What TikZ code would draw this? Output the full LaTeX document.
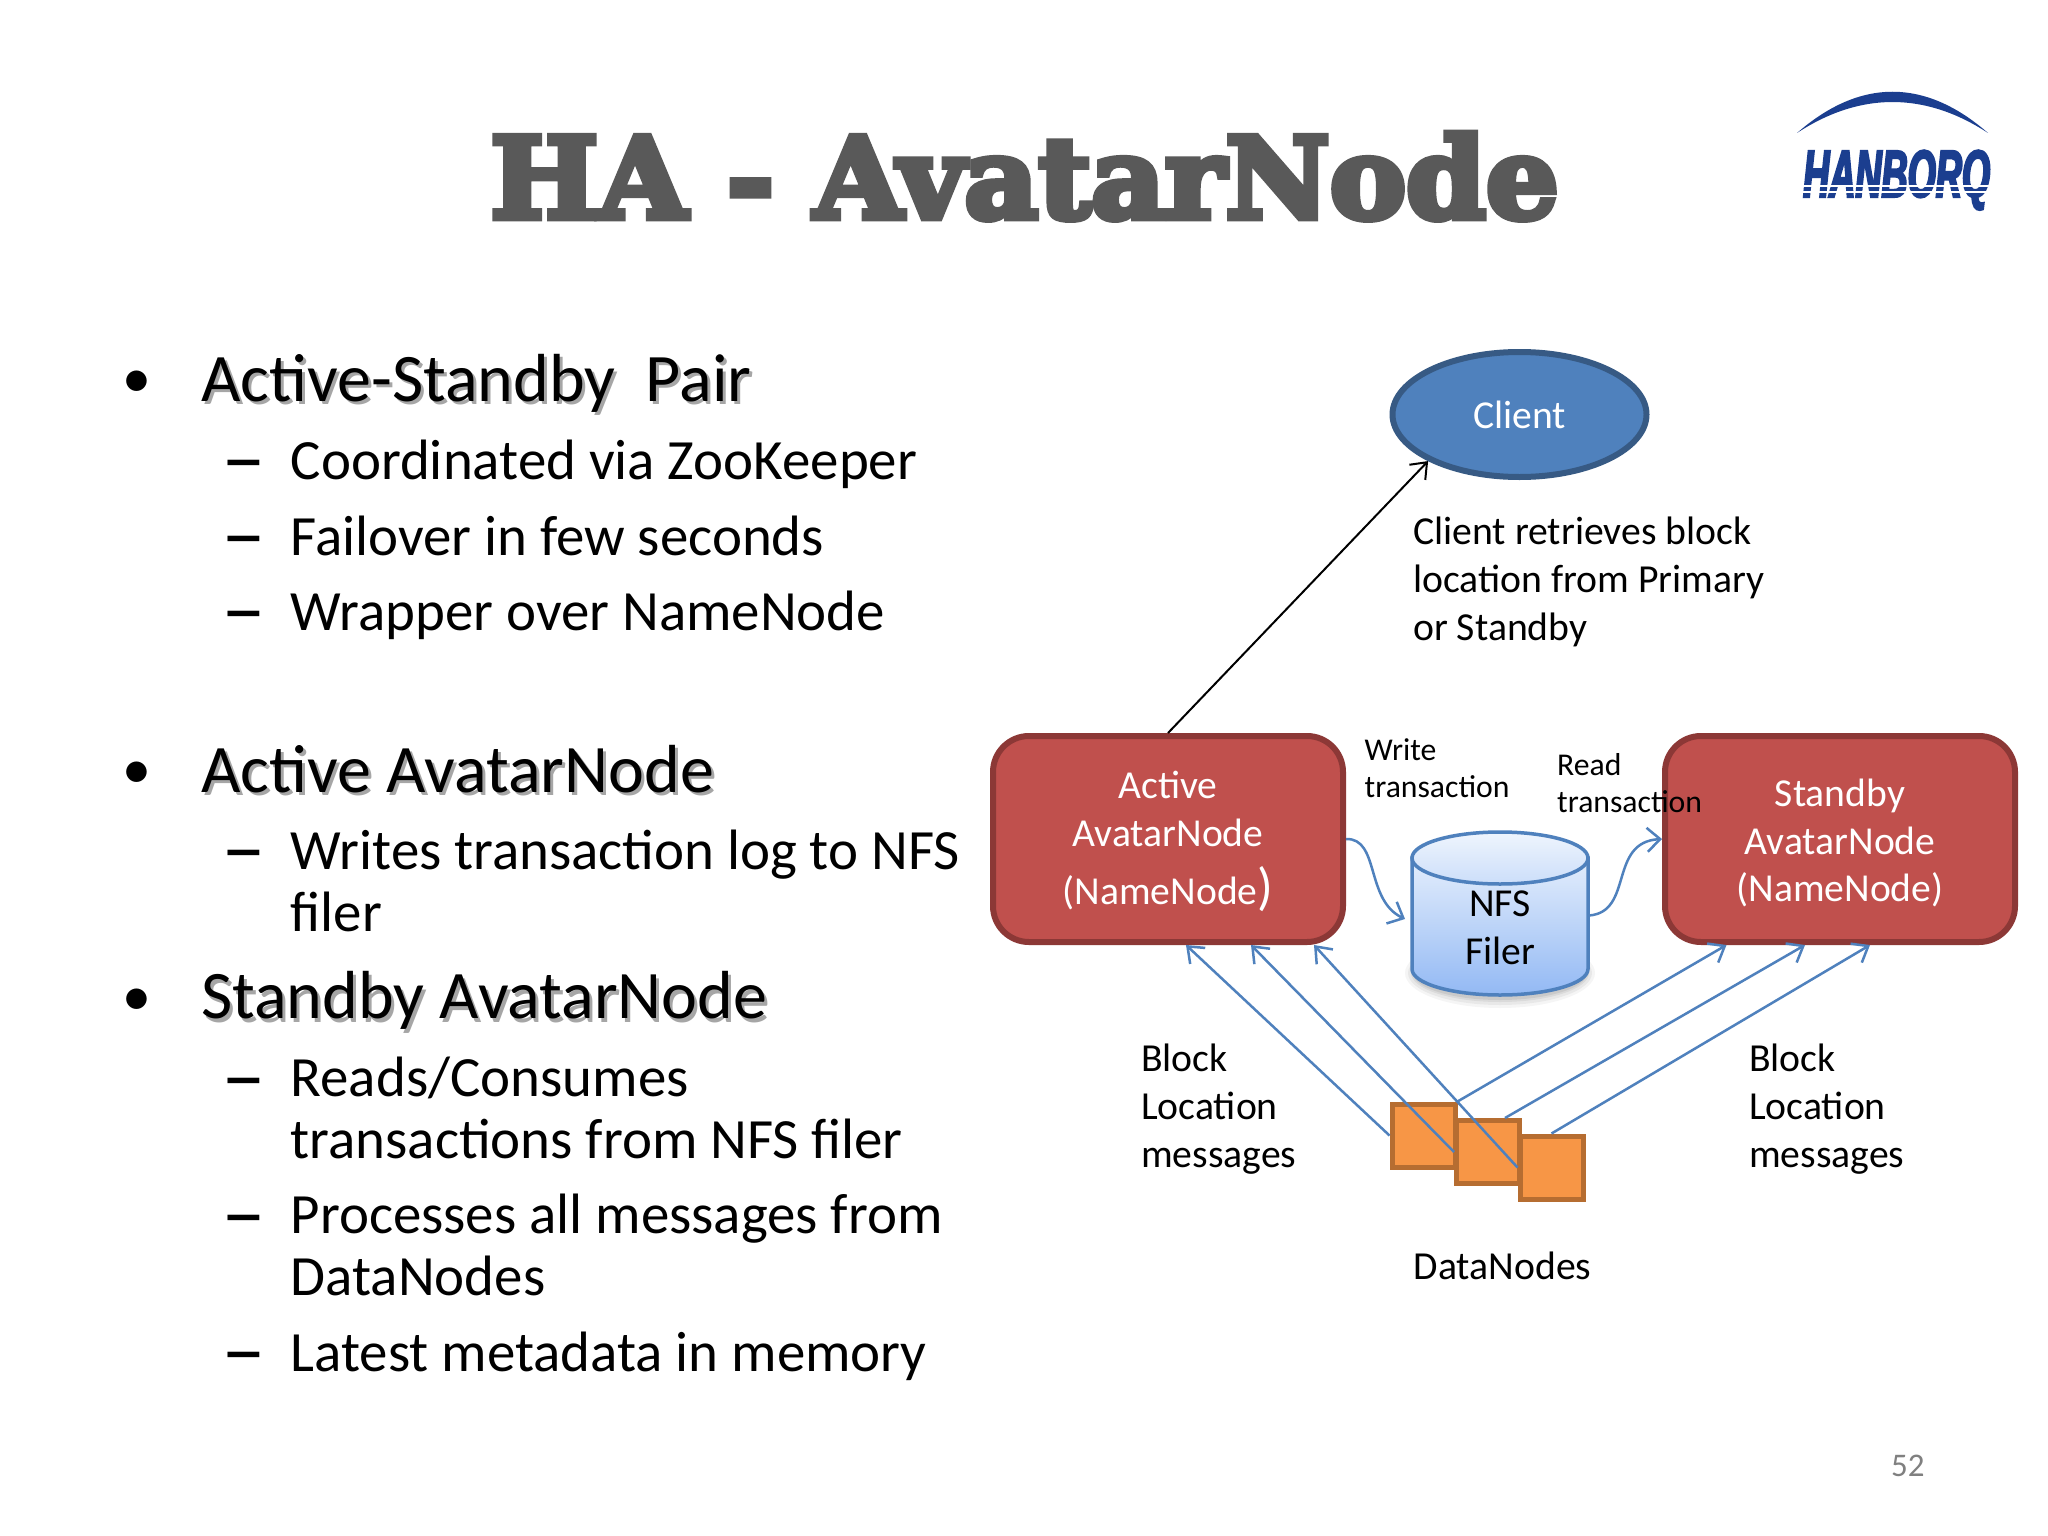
\documentclass[tikz,border=0pt]{standalone}
\usepackage{fontspec}
\setmainfont{Carlito}
\newfontfamily\titlefont[FakeBold=6,FakeStretch=1.02]{DejaVu Serif Bold}
\newfontfamily\logofont[FakeBold=3,FakeStretch=0.54]{Liberation Sans Bold Italic}
\newfontfamily\dashfont[FakeStretch=1.45]{Carlito Bold}
\usetikzlibrary{arrows.meta,positioning,calc,fadings,shapes.geometric}
\definecolor{boxred}{HTML}{C0504D}
\definecolor{boxredline}{HTML}{8C3836}
\definecolor{linkblue}{HTML}{4F81BD}
\definecolor{dnfill}{HTML}{F79646}
\definecolor{dnline}{HTML}{B66D31}
\definecolor{logoblue}{HTML}{1B3E8F}
\definecolor{cyltop}{HTML}{E4EEFC}
\definecolor{cylbot}{HTML}{93B9F4}
\newcommand{\fsz}[2]{\fontsize{#1}{#2}\selectfont}
\tikzset{
  x=1pt,y=-1pt,
  bigtext/.style={anchor=base west,inner sep=0pt,font=\fsz{68}{70},text=black},
  subtext/.style={anchor=base west,inner sep=0pt,font=\fsz{56.9}{61.5},align=left,text=black},
  shadowtext/.style={bigtext,text=black!35},
  bulletmark/.style={anchor=base west,inner sep=0pt,font=\fsz{58}{60}},
  dashmark/.style={anchor=base west,inner sep=0pt,font=\dashfont\fsz{62}{60}},
  namebox/.style={draw=boxredline,line width=6pt,fill=boxred,rounded corners=36pt,minimum width=350pt,minimum height=206pt,inner sep=0pt,text=white,align=center,font=\fsz{39.6}{47.5}},
  datanode/.style={draw=dnline,line width=5pt,fill=dnfill,minimum width=63pt,minimum height=63pt,inner sep=0pt},
  label/.style={anchor=base west,inner sep=0pt,align=left,font=\fsz{39.7}{48},text=black},
  smalllabel/.style={anchor=base west,inner sep=0pt,align=left,font=\fsz{31.7}{37.5},text=black},
  blockarrow/.style={draw=linkblue,line width=2.5pt,-{Straight Barb[length=14pt,width=22pt,line width=2.5pt]}},
  txarrow/.style={draw=linkblue,line width=2.5pt,-{Straight Barb[length=13pt,width=24pt,line width=2.5pt]}},
}
\begin{document}
\begin{tikzpicture}
\useasboundingbox (0,0) rectangle (2048,1536);
\fill[white] (0,0) rectangle (2048,1536);

% title
\node[anchor=base,inner sep=0pt,text=black!65,font=\titlefont\fsz{112}{112}] (title) at (1024.5,218) {HA - AvatarNode};

% logo
\fill[logoblue] (1797,133) .. controls (1860,78) and (1925,78) .. (1988,133) .. controls (1925,91.7) and (1860,91.7) .. (1797,133) -- cycle;
\node[anchor=base west,inner sep=0pt,text=logoblue,font=\logofont\fsz{67}{67}] (logo) at (1803,197) {HANBORQ};
\foreach \yy in {186,192}{\draw[white,line width=1.6pt] (1795,\yy) -- (2000,\yy);}

% left column
\node[bulletmark] (b1) at (122,397.4) {•};
\node[shadowtext] at (204,404.5) {Active-Standby\ \ Pair};
\node[bigtext] (t1) at (201,401.3) {Active-Standby\ \ Pair};
\node[dashmark] (d1) at (221,480.3) {–};
\node[subtext] (s1) at (290.5,479.3) {Coordinated via ZooKeeper};
\node[dashmark] (d2) at (221,556) {–};
\node[subtext] (s2) at (290.5,555) {Failover in few seconds};
\node[dashmark] (d3) at (221,631.8) {–};
\node[subtext] (s3) at (290.5,630.8) {Wrapper over NameNode};

\node[bulletmark] (b2) at (122,788.4) {•};
\node[shadowtext] at (204,795.5) {Active AvatarNode};
\node[bigtext] (t2) at (201,792.3) {Active AvatarNode};
\node[dashmark] (d4) at (221,870.8) {–};
\node[subtext] (s4) at (290.5,931.3) {Writes transaction log to NFS\\filer};

\node[bulletmark] (b3) at (122,1015) {•};
\node[shadowtext] at (204,1022) {Standby AvatarNode};
\node[bigtext] (t3) at (201,1018.8) {Standby AvatarNode};
\node[dashmark] (d5) at (221,1098.3) {–};
\node[subtext] (s5) at (290.5,1158.3) {Reads/Consumes\\transactions from NFS filer};
\node[dashmark] (d6) at (221,1235.3) {–};
\node[subtext] (s6) at (290.5,1295.3) {Processes all messages from\\DataNodes};
\node[dashmark] (d7) at (221,1372.3) {–};
\node[subtext] (s7) at (290.5,1371.3) {Latest metadata in memory};

% client
\node[draw=linkblue!70!black,line width=6pt,fill=linkblue,ellipse,minimum width=254pt,minimum height=125pt,inner sep=0pt,text=white,font=\fsz{39.6}{46}] (client) at (1519.5,414.5) {Client};

% name boxes
\node[namebox] (active) at (1168,839) {\rule{0pt}{33pt}Active\\AvatarNode\\[11pt](NameNode{\fsz{52}{47.5})}};
\node[namebox] (standby) at (1840,839) {\rule{0pt}{36pt}Standby\\AvatarNode\\(NameNode)};

% client labels
\node[label] (cl) at (1413,640) {Client retrieves block\\location from Primary\\or Standby};
\draw[black,line width=2pt,-{Straight Barb[length=14pt,width=22pt,line width=2pt]}] (active.north) -- (client.207);

% NFS cylinder
\foreach \op/\grow in {0.04/9,0.05/6,0.06/3,0.07/1}{
  \fill[black,opacity=\op] (1500,973) ellipse ({86+\grow} and {26+\grow});
}
\fill[top color=cyltop,bottom color=cylbot,draw=linkblue,line width=3.5pt]
  (1412,858) -- (1412,969) arc[start angle=180,end angle=360,x radius=88,y radius=-26] -- (1588,858) -- cycle;
\fill[top color=cyltop!60!white,bottom color=cyltop!70!cylbot,draw=linkblue,line width=3.5pt] (1500,858) ellipse (88 and 26);
\node[anchor=center,inner sep=0pt,minimum width=176pt,minimum height=162pt,align=center,font=\fsz{39.6}{48},text=black] (nfs) at (1500,928) {NFS\\Filer};
\coordinate (nfsin) at (1405,919);
\coordinate (nfsout) at (1589,915.5);

\draw[txarrow] (active.east) .. controls (1380,838) and (1365,900) .. (nfsin);
\draw[txarrow] (nfsout) .. controls (1634,912) and (1608,842) .. (standby.west);

\node[smalllabel] (wt) at (1364.5,797.5) {Write\\transaction};
\node[smalllabel] (rt) at (1557,812.6) {Read\\transaction};

% data nodes
\node[datanode] (dn1) at (1423.5,1135.5) {};
\node[datanode] (dn2) at (1488,1152) {};
\node[datanode] (dn3) at (1551.5,1167.5) {};

\draw[blockarrow] (dn1.west) -- ([xshift=18pt]active.south);
\draw[blockarrow] (dn2.west) -- ([xshift=83pt]active.south);
\draw[blockarrow] (dn3.west) -- ([xshift=146pt]active.south);
\draw[blockarrow] (dn1.north east) -- ([xshift=-113.5pt]standby.south);
\draw[blockarrow] ([xshift=17pt]dn2.north) -- ([xshift=-35pt]standby.south);
\draw[blockarrow] (dn3.north) -- ([xshift=30pt]standby.south);

\node[label] (bl1) at (1141,1167) {Block\\Location\\messages};
\node[label] (bl2) at (1749,1167) {Block\\Location\\messages};
\node[label] (dnlabel) at (1413.5,1279) {DataNodes};
\node[anchor=base west,inner sep=0pt,text=black!50,font=\fsz{33}{36}] (pageno) at (1891,1476.5) {52};
\end{tikzpicture}
\end{document}
